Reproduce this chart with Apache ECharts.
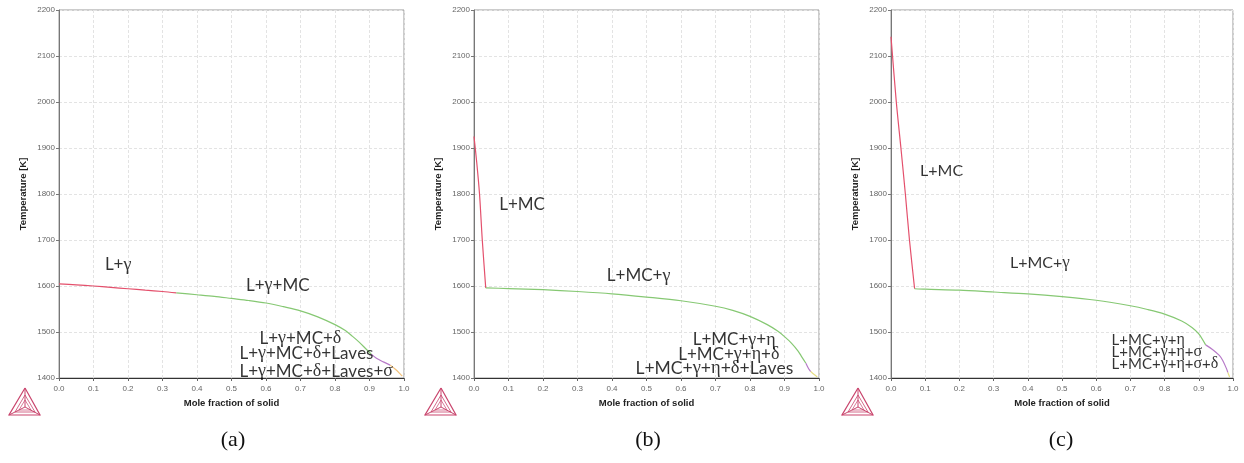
<!DOCTYPE html>
<html>
<head>
<meta charset="utf-8">
<script src="https://cdn.jsdelivr.net/npm/echarts@6/dist/echarts.min.js"></script>
<style>
  html, body { margin: 0; padding: 0; background: #fff; }
  #chart { width: 1244px; height: 463px; }
</style>
</head>
<body>
<div id="chart"></div>
<script>
// Solidification paths: [mole fraction of solid, temperature K]

// (a)
const aLiqGamma = [[0, 1604.5], [0.05, 1602.5], [0.1, 1600], [0.15, 1597], [0.2, 1594], [0.25, 1591], [0.3, 1588], [0.34, 1585]];
const aLiqGammaMC = [[0.34, 1585], [0.4, 1581], [0.45, 1577.5], [0.5, 1573], [0.55, 1568.5], [0.6, 1563], [0.65, 1555], [0.7, 1546], [0.75, 1533], [0.8, 1516], [0.83, 1503], [0.85, 1491], [0.87, 1478], [0.89, 1463], [0.905, 1452]];
const aDeltaLaves = [[0.905, 1452], [0.92, 1443], [0.94, 1435], [0.96, 1428]];
const aSigma = [[0.96, 1428], [0.975, 1419], [0.99, 1408], [0.995, 1404]];

// (b)
const bLiqMC = [[0, 1925], [0.008, 1868], [0.016, 1800], [0.024, 1700], [0.034, 1596]];
const bLiqMCGamma = [[0.034, 1596], [0.1, 1594.5], [0.2, 1592], [0.3, 1588], [0.4, 1583], [0.5, 1576], [0.6, 1568], [0.7, 1556], [0.75, 1547], [0.8, 1534], [0.85, 1516], [0.88, 1502], [0.9, 1490], [0.92, 1476], [0.94, 1458], [0.95, 1446], [0.962, 1432]];
const bEtaDelta = [[0.962, 1432], [0.97, 1420], [0.976, 1414]];
const bLaves = [[0.976, 1414], [0.985, 1408], [0.995, 1402]];

// (c)
const cLiqMC = [[0, 2142], [0.0155, 2000], [0.029, 1900], [0.042, 1800], [0.054, 1700], [0.069, 1594]];
const cLiqMCGamma = [[0.069, 1594], [0.1, 1593], [0.2, 1591], [0.3, 1587], [0.4, 1583], [0.5, 1577], [0.6, 1569], [0.7, 1557], [0.75, 1549], [0.8, 1539], [0.85, 1524], [0.88, 1510], [0.9, 1496], [0.92, 1472]];
const cEtaSigma = [[0.92, 1472], [0.94, 1462], [0.96, 1449], [0.97, 1438], [0.98, 1422], [0.985, 1412]];
const cDelta = [[0.985, 1412], [0.99, 1402]];

// Phase-region labels
const aLabels = ['L+γ', 'L+γ+MC', 'L+γ+MC+δ', 'L+γ+MC+δ+Laves', 'L+γ+MC+δ+Laves+σ'];
const bLabels = ['L+MC', 'L+MC+γ', 'L+MC+γ+η', 'L+MC+γ+η+δ', 'L+MC+γ+η+δ+Laves'];
const cLabels = ['L+MC', 'L+MC+γ', 'L+MC+γ+η', 'L+MC+γ+η+σ', 'L+MC+γ+η+σ+δ'];
const panelTitles = ['(a)', '(b)', '(c)'];

const RED = '#e4506c', GREEN = '#86c873', PURPLE = '#b77ac8', ORANGE = '#f3c27a', YELLOW = '#e6df86';

// where each label sits (data coords, left edge / middle) and its font size
const labelAnchors = [
  [[0.133, 1646], [0.542, 1602], [0.581, 1486], [0.523, 1454], [0.523, 1414]],
  [[0.073, 1778], [0.385, 1622], [0.634, 1483], [0.592, 1452], [0.468, 1421]],
  [[0.085, 1850], [0.348, 1651], [0.645, 1483], [0.645, 1457], [0.645, 1430]]
];
const labelSizes = [[17, 17, 17, 17, 17], [17, 17, 17, 17, 17.5], [16, 16, 15, 15, 15]];

const grids = [
  { left: 59, top: 10, width: 345, height: 368 },
  { left: 474, top: 10, width: 345, height: 368 },
  { left: 891, top: 10, width: 342, height: 368 }
];

function richText(s) {
  let out = '';
  for (const ch of s) {
    out += /[γδησ]/.test(ch) ? '{g|' + ch + '}' : '{t|' + ch + '}';
  }
  return out;
}

const series = [];
function line(gi, data, color) {
  series.push({
    type: 'line', xAxisIndex: gi, yAxisIndex: gi, data: data,
    showSymbol: false, smooth: 0.3, silent: true,
    lineStyle: { color: color, width: 1.2 }, z: 3
  });
}
line(0, aLiqGamma, RED); line(0, aLiqGammaMC, GREEN); line(0, aDeltaLaves, PURPLE); line(0, aSigma, ORANGE);
line(1, bLiqMC, RED); line(1, bLiqMCGamma, GREEN); line(1, bEtaDelta, PURPLE); line(1, bLaves, YELLOW);
line(2, cLiqMC, RED); line(2, cLiqMCGamma, GREEN); line(2, cEtaSigma, PURPLE); line(2, cDelta, YELLOW);

[aLabels, bLabels, cLabels].forEach((labels, gi) => {
  labels.forEach((txt, i) => {
    const fs = labelSizes[gi][i];
    series.push({
      type: 'scatter', xAxisIndex: gi, yAxisIndex: gi, symbolSize: 0, silent: true, z: 5,
      data: [labelAnchors[gi][i]],
      label: {
        show: true, position: 'right', distance: 0,
        formatter: () => richText(txt),
        rich: {
          t: { fontFamily: 'Lato', fontSize: fs, color: '#000' },
          g: { fontFamily: 'Liberation Serif', fontSize: fs + 1, color: '#000' }
        }
      }
    });
  });
});

const xAxes = grids.map((g, i) => ({
  type: 'value', gridIndex: i, min: 0, max: 1, interval: 0.1,
  name: 'Mole fraction of solid', nameLocation: 'middle', nameGap: 19,
  nameTextStyle: { fontFamily: 'Liberation Sans', fontWeight: 'bold', fontSize: 9.5, color: '#222' },
  axisLine: { show: true, lineStyle: { color: '#333', width: 1 } },
  axisTick: { show: true, length: 3, lineStyle: { color: '#666' } },
  axisLabel: { fontFamily: 'Liberation Sans', fontSize: 8, color: '#666', margin: 7, formatter: v => v.toFixed(1) },
  splitLine: { show: true, lineStyle: { color: '#e3e3e3', type: [3, 2], width: 1 } }
}));
const yAxes = grids.map((g, i) => ({
  type: 'value', gridIndex: i, min: 1400, max: 2200, interval: 100,
  name: 'Temperature [K]', nameLocation: 'middle', nameGap: 31,
  nameTextStyle: { fontFamily: 'Liberation Sans', fontWeight: 'bold', fontSize: 9.5, color: '#222' },
  axisLine: { show: true, lineStyle: { color: '#777', width: 1 } },
  axisTick: { show: true, length: 3, lineStyle: { color: '#777' } },
  axisLabel: { fontFamily: 'Liberation Sans', fontSize: 8, color: '#666', margin: 4, formatter: v => String(v) },
  splitLine: { show: true, lineStyle: { color: '#e3e3e3', type: [3, 2], width: 1 } }
}));

// Tetrahedron logo under each panel's origin
function logo(x, y) {
  const c = '#c9456d';
  const A = [16, 0], B = [0, 27], C = [31, 27], O = [16, 19];
  const mk = (pts, w) => ({ type: 'polyline', shape: { points: pts.map(p => [p[0] + x, p[1] + y]) }, style: { stroke: c, lineWidth: w, fill: null } });
  return [
    mk([A, B, C, A], 1.2),
    mk([A, O], 1), mk([B, O], 1), mk([C, O], 1),
    mk([[16, 7], [6, 24], [26, 24], [16, 7]], 0.8),
    mk([[16, 12], [10, 22], [22, 22], [16, 12]], 0.7)
  ];
}

const graphics = [].concat(logo(9, 388), logo(425, 388), logo(842, 388));
[233, 648, 1061].forEach((cx, i) => {
  graphics.push({
    type: 'text', x: cx, y: 440,
    style: { text: panelTitles[i], font: '22px "Liberation Serif"', fill: '#111', textAlign: 'center', textVerticalAlign: 'middle' }
  });
});

const chart = echarts.init(document.getElementById('chart'), null, { renderer: 'canvas' });
chart.setOption({
  animation: false,
  backgroundColor: '#fff',
  grid: grids.map(g => Object.assign({ show: true, borderColor: '#999', borderWidth: 1, backgroundColor: 'transparent' }, g)),
  xAxis: xAxes,
  yAxis: yAxes,
  series: series,
  graphic: graphics
});
</script>
</body>
</html>
